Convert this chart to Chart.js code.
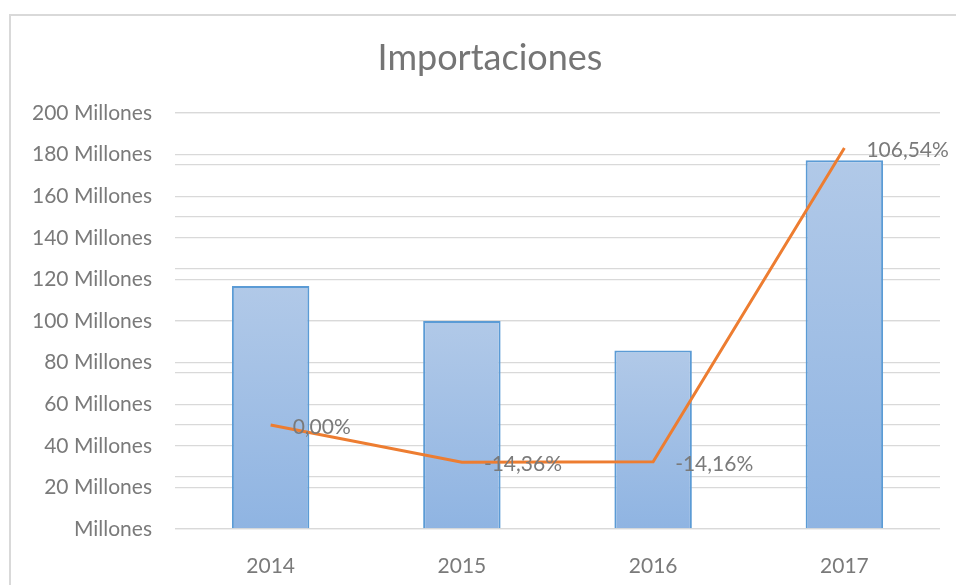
<!DOCTYPE html>
<html>
<head>
<meta charset="utf-8">
<script src="https://cdn.jsdelivr.net/npm/chart.js@4.4.1/dist/chart.umd.min.js"></script>
<style>
  body { margin: 0; background: #fff; overflow: hidden; }
  #frame { position: absolute; left: 9px; top: 14px; width: 960px; height: 600px; border: 2px solid #d9d9d9; }
  #wrap { position: absolute; left: 0; top: 0; width: 956px; height: 585px; }
</style>
</head>
<body>
<div id="frame"></div>
<div id="wrap"><canvas id="myChart" width="956" height="585"></canvas></div>
<script>
// data
var years = ['2014', '2015', '2016', '2017'];
var imports = [116800000, 100000000, 85840000, 177300000];
var changes = [0, -14.36, -14.16, 106.54];

var grey = '#7a7a7a';
var fontFam = 'Lato';

// bar gradient, one per bar
function barFill(c) {
  var chart = c.chart;
  if (!chart.chartArea || c.raw == null) return '#9dbde6';
  var top = chart.scales.y.getPixelForValue(c.raw);
  var bottom = chart.scales.y.getPixelForValue(0);
  var g = chart.ctx.createLinearGradient(0, top, 0, bottom);
  g.addColorStop(0, '#b1c9e8');
  g.addColorStop(1, '#8fb4e2');
  return g;
}

// title + percent labels
const extras = {
  id: 'extras',
  afterDraw(chart) {
    const ctx = chart.ctx;
    ctx.save();
    ctx.fillStyle = '#757575';
    ctx.font = '36px ' + fontFam;
    ctx.textAlign = 'center';
    ctx.textBaseline = 'middle';
    ctx.fillText('Importaciones', 490, 58);

    const meta = chart.getDatasetMeta(1);
    ctx.font = '21px ' + fontFam;
    ctx.fillStyle = grey;
    ctx.textAlign = 'left';
    meta.data.forEach((pt, i) => {
      var txt = changes[i].toFixed(2).replace('.', ',') + '%';
      ctx.fillText(txt, pt.x + 22, pt.y + 2);
    });
    ctx.restore();
  }
};

const ctx = document.getElementById('myChart');
const myChart = new Chart(ctx, {
  data: {
    labels: years,
    datasets: [{
      type: 'bar',
      data: imports,
      backgroundColor: barFill,
      borderColor: '#5b9bd5',
      borderWidth: 2,
      categoryPercentage: 1,
      barPercentage: 0.405,
      yAxisID: 'y',
      order: 2
    }, {
      type: 'line',
      data: changes,
      borderColor: '#ed7d31',
      borderWidth: 3,
      pointRadius: 0,
      tension: 0,
      yAxisID: 'y1',
      order: 1
    }]
  },
  options: {
    responsive: false,
    animation: false,
    layout: { padding: { left: 0, right: 16, top: 113, bottom: 0 } },
    plugins: {
      legend: { display: false },
      title: { display: false },
      tooltip: { enabled: false }
    },
    scales: {
      x: {
        grid: { display: false },
        border: { display: false },
        ticks: { color: grey, padding: 17, font: { family: fontFam, size: 21 } },
        afterFit: (s) => { s.height = 56; }
      },
      y: {
        min: 0,
        max: 200000000,
        ticks: {
          stepSize: 20000000,
          color: grey,
          padding: 23,
          font: { family: fontFam, size: 21 },
          callback: (v) => v === 0 ? 'Millones' : (v / 1000000) + ' Millones'
        },
        grid: { color: '#d9d9d9', lineWidth: 1.3, drawTicks: false },
        border: { display: false },
        afterFit: (s) => { s.width = 175; }
      },
      y1: {
        position: 'right',
        min: -40,
        max: 120,
        ticks: { display: false, stepSize: 20 },
        grid: { color: '#d9d9d9', lineWidth: 1.3, drawTicks: false },
        border: { display: false },
        afterFit: (s) => { s.width = 0; }
      }
    }
  },
  plugins: [extras]
});
</script>
</body>
</html>
